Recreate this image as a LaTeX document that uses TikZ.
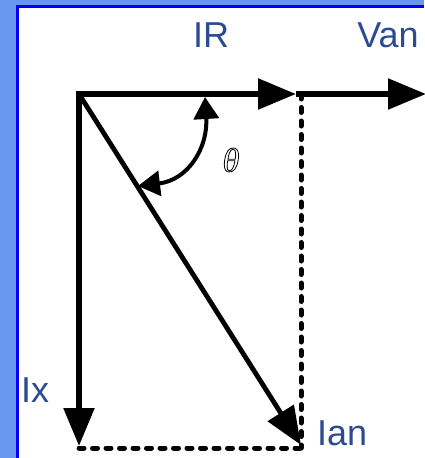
\documentclass[tikz,border=0pt]{standalone}
\usepackage{fontspec}
\setmainfont{Liberation Sans}
\newfontfamily\thetafont{Liberation Serif}
\usetikzlibrary{arrows.meta}
\definecolor{bgblue}{RGB}{104,152,240}
\definecolor{edgeblue}{RGB}{0,0,250}
\definecolor{lblue}{RGB}{45,75,145}
\tikzset{
  vec/.style={line width=5.5pt,-{Triangle[length=38pt,width=30pt]}},
  proj/.style={line width=5pt,line cap=round,dash pattern=on 5pt off 8.5pt},
  lbl/.style={text=lblue,font=\fontsize{36}{40}\selectfont,inner sep=0pt},
  anglearc/.style={line width=4pt,{Triangle[length=22pt,width=25pt]}-{Triangle[length=22pt,width=25pt]}}
}
\begin{document}
\begin{tikzpicture}[x=1pt,y=-1pt]
\useasboundingbox (0,0) rectangle (424,458);
\fill[bgblue] (0,0) rectangle (424,458);
\fill[edgeblue] (16,5) rectangle (424,458);
\fill[white] (19,8) rectangle (424,458);
% points
\coordinate (O) at (79,94);
\coordinate (IRt) at (296,94);
\coordinate (Vt) at (426,94);
\coordinate (Ixt) at (79,446);
\coordinate (Iant) at (301,445);
\coordinate (C) at (301,448);
\coordinate (D) at (301,94);
\coordinate (B) at (79,448);
\coordinate (A1) at (205,97);
\coordinate (A2) at (138,186);
% projections
\draw[proj] (D) -- (C);
\draw[proj] (B) -- (C);
% vectors
\draw[vec] (O) -- (IRt);
\draw[vec] (IRt) -- (Vt);
\draw[vec] (O) -- (Ixt);
\draw[vec,line width=4.8pt] (O) -- (Iant);
\fill (76.25,91.25) rectangle (81.75,96.75);
% angle
\draw[anglearc] (A1) .. controls (208,148) and (188,180) .. (A2);
\node[inner sep=0pt] (th) at (231,160) {\special{pdf:literal direct 1 Tr 0.8 w}\thetafont\itshape\fontsize{34}{36}\selectfont θ\special{pdf:literal direct 0 Tr}};
% labels
\node[lbl,anchor=base] (IR) at (211,47) {IR};
\node[lbl,anchor=base] (Van) at (388,47) {Van};
\node[lbl,anchor=base west] (Ix) at (21,402) {Ix};
\node[lbl,anchor=base west] (Ian) at (317,445) {Ian};
\end{tikzpicture}
\end{document}
